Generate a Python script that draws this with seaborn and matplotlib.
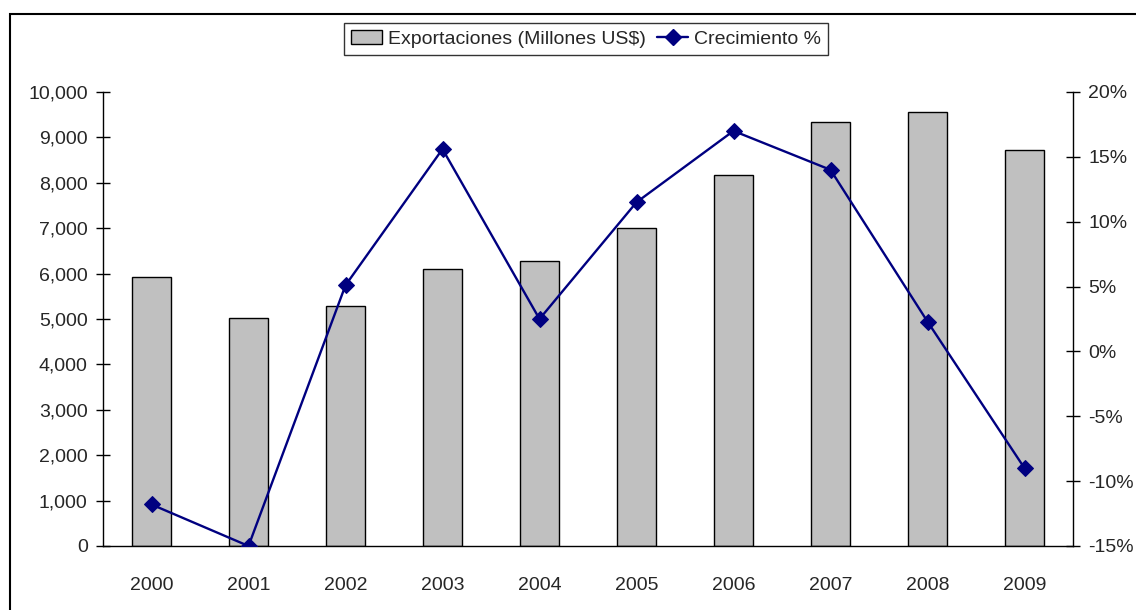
import numpy as np
import pandas as pd
import seaborn as sns
import matplotlib.pyplot as plt
from matplotlib.patches import Rectangle, Patch
from matplotlib.lines import Line2D
from matplotlib.ticker import FuncFormatter, MultipleLocator

years = ["2000", "2001", "2002", "2003", "2004", "2005", "2006", "2007", "2008", "2009"]
exports = [5930, 5020, 5290, 6100, 6280, 7000, 8170, 9340, 9560, 8720]
growth = [-11.8, -15.0, 5.1, 15.6, 2.5, 11.5, 17.0, 14.0, 2.3, -9.0]

sns.set_style("white")
plt.rcParams['font.family'] = ['Liberation Sans', 'DejaVu Sans']
plt.rcParams['font.size'] = 14

df = pd.DataFrame({"year": years, "exports": exports, "growth": growth})

fig = plt.figure(figsize=(11.36, 6.10), dpi=100)
ax = fig.add_axes([103/1136, 64/610, 970/1136, 454/610])

sns.barplot(data=df, x="year", y="exports", color="#c0c0c0", saturation=1,
            edgecolor="black", linewidth=1, width=0.4, ax=ax)
ax.set_xlim(-0.5, 9.5)
ax.set_ylim(0, 10000)
ax.yaxis.set_major_locator(MultipleLocator(1000))
ax.yaxis.set_major_formatter(FuncFormatter(lambda v, p: f"{int(v):,}"))
ax.set_xlabel("")
ax.set_ylabel("")
ax.set_xticks(np.arange(len(years)))
ax.set_xticklabels(years)
ax.set_xticks(np.arange(-0.5, len(years)), minor=True)
ax.tick_params(axis="x", which="major", length=0, pad=22)
ax.tick_params(axis="x", which="minor", length=9, direction="inout", width=1, color="black")
ax.tick_params(axis="y", length=10, direction="inout", width=1, color="black", pad=6)
for s in ["top", "right"]:
    ax.spines[s].set_visible(False)
for s in ["left", "bottom"]:
    ax.spines[s].set_color("black")
    ax.spines[s].set_linewidth(1)

ax2 = ax.twinx()
sns.lineplot(x=np.arange(len(years)), y=df["growth"], color="#000080", linewidth=1.7,
             marker="D", markersize=8, markeredgecolor="#000080", ax=ax2)
ax2.set_ylim(-15, 20)
ax2.yaxis.set_major_locator(MultipleLocator(5))
ax2.yaxis.set_major_formatter(FuncFormatter(lambda v, p: f"{int(round(v))}%".replace("\u2212", "-")))
ax2.set_ylabel("")
ax2.tick_params(axis="y", length=10, direction="inout", width=1, color="black", pad=6)
for s in ["top", "left", "bottom"]:
    ax2.spines[s].set_visible(False)
ax2.spines["right"].set_color("black")
ax2.spines["right"].set_linewidth(1)

handles = [Patch(facecolor="#c0c0c0", edgecolor="black", linewidth=1),
           Line2D([0], [0], color="#000080", linewidth=1.7, marker="D", markersize=8)]
leg = fig.legend(handles, ["Exportaciones (Millones US$)", "Crecimiento %"],
                 loc="center", bbox_to_anchor=(586/1136, 1 - 39/610), ncol=2,
                 frameon=True, fancybox=False, shadow=False, fontsize=14,
                 handlelength=1.6, handletextpad=0.3, columnspacing=0.6,
                 borderpad=0.35)
leg.get_frame().set_edgecolor("black")
leg.get_frame().set_linewidth(1)

fig.patches.append(Rectangle((10/1136, -0.1), 1.2, 1.1 - 14/610, transform=fig.transFigure,
                             fill=False, edgecolor="black", linewidth=1.5))

fig.savefig("out.png", dpi=100)
